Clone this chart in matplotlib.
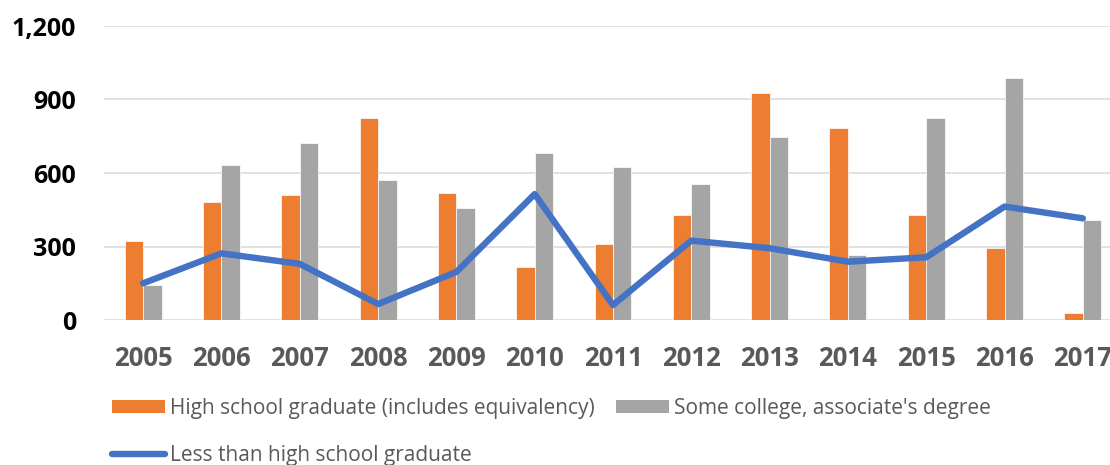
import matplotlib
matplotlib.use("Agg")
import matplotlib.pyplot as plt
import numpy as np
from matplotlib.patches import Patch
from matplotlib.lines import Line2D

# Data
years = ["2005", "2006", "2007", "2008", "2009", "2010", "2011",
         "2012", "2013", "2014", "2015", "2016", "2017"]
high_school = [324, 480, 510, 824, 520, 215, 309, 429, 925, 782, 429, 294, 27]
some_college = [142, 634, 724, 571, 458, 680, 626, 554, 748, 265, 826, 987, 410]
less_than_hs = [150, 272, 229, 65, 196, 514, 61, 324, 293, 238, 256, 463, 415]
y_ticks = [0, 300, 600, 900, 1200]
y_tick_labels = ["0", "300", "600", "900", "1,200"]

label_hs = "High school graduate (includes equivalency)"
label_sc = "Some college, associate's degree"
label_lt = "Less than high school graduate"

ORANGE = "#ED7D31"
GREY = "#A5A5A5"
BLUE = "#4472C4"
TEXT_GREY = "#595959"
GRID = "#D9D9D9"

plt.rcParams["font.family"] = ["Open Sans", "DejaVu Sans"]

fig = plt.figure(figsize=(11.10, 4.65), dpi=100)
ax = fig.add_axes([104 / 1110, 145 / 465, 1018 / 1110, 294 / 465])

x = np.arange(len(years))
bw = 0.236
ax.bar(x - bw / 2, high_school, width=bw, color=ORANGE,
       edgecolor="white", linewidth=0.5, zorder=2)
ax.bar(x + bw / 2, some_college, width=bw, color=GREY,
       edgecolor="white", linewidth=0.5, zorder=2)
ax.plot(x, less_than_hs, color=BLUE, linewidth=4.6,
        solid_joinstyle="round", solid_capstyle="round", zorder=3)

ax.set_xlim(-0.5, len(years) - 0.5)
ax.set_ylim(0, 1200)
ax.set_yticks(y_ticks)
ax.set_yticklabels(y_tick_labels)
ax.set_xticks(x)
ax.set_xticklabels(years)

for s in ax.spines.values():
    s.set_visible(False)
ax.yaxis.grid(True, color=GRID, linewidth=1.1, zorder=0)
ax.set_axisbelow(True)
ax.tick_params(axis="both", length=0)
ax.tick_params(axis="y", pad=20, labelsize=18, labelcolor="black")
ax.tick_params(axis="x", pad=18, labelsize=18.5, labelcolor=TEXT_GREY)
for t in ax.get_yticklabels() + ax.get_xticklabels():
    t.set_fontweight("bold")

handles = [
    Patch(facecolor=ORANGE, edgecolor="none", label=label_hs),
    Line2D([0], [0], color=BLUE, linewidth=4.6, solid_capstyle="round", label=label_lt),
    Patch(facecolor=GREY, edgecolor="none", label=label_sc),
]
leg = fig.legend(handles=handles, ncol=2, loc="upper left",
                 bbox_to_anchor=(112 / 1110, 1 - 398 / 465),
                 frameon=False, fontsize=15, handlelength=2.55,
                 handleheight=0.6, handletextpad=0.25, columnspacing=1.0,
                 labelspacing=1.25, borderaxespad=0, borderpad=0)
for t in leg.get_texts():
    t.set_color(TEXT_GREY)

fig.savefig("out.png", dpi=100)
